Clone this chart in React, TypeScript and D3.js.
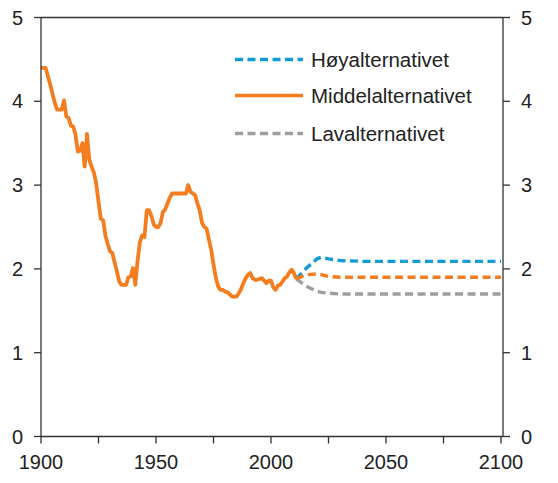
import React from "react";
import * as d3 from "d3";

const histYears = [1900,1901,1902,1903,1904,1905,1906,1907,1908,1909,1910,1911,1912,1913,1914,1915,1916,1917,1918,1919,1920,1921,1922,1923,1924,1925,1926,1927,1928,1929,1930,1931,1932,1933,1934,1935,1936,1937,1938,1939,1940,1941,1942,1943,1944,1945,1946,1947,1948,1949,1950,1951,1952,1953,1954,1955,1956,1957,1958,1959,1960,1961,1962,1963,1964,1965,1966,1967,1968,1969,1970,1971,1972,1973,1974,1975,1976,1977,1978,1979,1980,1981,1982,1983,1984,1985,1986,1987,1988,1989,1990,1991,1992,1993,1994,1995,1996,1997,1998,1999,2000,2001,2002,2003,2004,2005,2006,2007,2008,2009,2010,2011];
const histValues = [4.40,4.40,4.40,4.30,4.20,4.09,3.98,3.90,3.90,3.90,4.01,3.82,3.80,3.71,3.70,3.60,3.40,3.41,3.50,3.22,3.61,3.30,3.22,3.15,3.02,2.80,2.60,2.58,2.40,2.30,2.21,2.19,2.08,1.97,1.85,1.81,1.81,1.81,1.90,1.91,2.01,1.81,2.10,2.32,2.40,2.38,2.70,2.70,2.63,2.53,2.50,2.50,2.55,2.68,2.71,2.78,2.85,2.90,2.90,2.90,2.90,2.90,2.90,2.90,3.00,2.92,2.90,2.88,2.78,2.70,2.55,2.50,2.48,2.35,2.23,2.05,1.90,1.79,1.75,1.75,1.73,1.72,1.70,1.67,1.67,1.67,1.71,1.76,1.83,1.89,1.93,1.95,1.89,1.87,1.87,1.88,1.89,1.86,1.83,1.86,1.86,1.78,1.75,1.80,1.81,1.85,1.89,1.91,1.96,1.99,1.95,1.88];

const projYears = [2011,2015,2020,2022,2025,2030,2040,2060,2080,2100];
const highValues = [1.88,2.00,2.12,2.14,2.12,2.10,2.09,2.09,2.09,2.09];
const midValues = [1.88,1.93,1.94,1.93,1.91,1.90,1.90,1.90,1.90,1.90];
const lowValues = [1.88,1.80,1.73,1.72,1.71,1.70,1.70,1.70,1.70,1.70];

const xTicks = [1900,1925,1950,1975,2000,2025,2050,2075,2100];
const xTickLabels = ["1900","","1950","","2000","","2050","","2100"];
const yTicks = [0,1,2,3,4,5];

const legendLabels = ["Høyalternativet","Middelalternativet","Lavalternativet"];

const ORANGE = "#F47D20";
const BLUE = "#0E9BD7";
const GRAY = "#9E9EA0";
const AXIS = "#333333";
const TEXT = "#222222";
const FONT = "'Liberation Sans', Arial, sans-serif";

export default function App() {
  const x = d3.scaleLinear().domain([1900, 2100]).range([41, 501]);
  const y = d3.scaleLinear().domain([0, 5]).range([436.5, 17.5]);
  const left = 41;
  const right = 503;
  const line = d3.line<[number, number]>().x(d => x(d[0])).y(d => y(d[1]));
  const hist = line(histYears.map((yr, i) => [yr, histValues[i]]));
  const high = line(projYears.map((yr, i) => [yr, highValues[i]]));
  const mid = line(projYears.map((yr, i) => [yr, midValues[i]]));
  const low = line(projYears.map((yr, i) => [yr, lowValues[i]]));
  const dash = "8,4.5";
  const legendY = [59.5, 95.5, 133.5];
  const legendStyles = [
    { stroke: BLUE, dash: dash },
    { stroke: ORANGE, dash: undefined },
    { stroke: GRAY, dash: dash },
  ];
  return (
    <svg width={558} height={483} style={{ position: "absolute", left: 0, top: 0, display: "block" }} fontFamily={FONT}>
      <rect x={0} y={0} width={558} height={483} fill="#fff" />
      <path d={low || ""} fill="none" stroke={GRAY} strokeWidth={3.4} strokeDasharray={dash} />
      <path d={high || ""} fill="none" stroke={BLUE} strokeWidth={3.4} strokeDasharray={dash} />
      <path d={mid || ""} fill="none" stroke={ORANGE} strokeWidth={3.4} strokeDasharray={dash} />
      <path d={hist || ""} fill="none" stroke={ORANGE} strokeWidth={3.8} strokeLinejoin="round" />
      <line x1={left} x2={right} y1={y(5)} y2={y(5)} stroke={AXIS} strokeWidth={1.3} />
      <line x1={left} x2={right} y1={y(0)} y2={y(0)} stroke={AXIS} strokeWidth={1.3} />
      <line x1={left} x2={left} y1={y(5)} y2={y(0)} stroke={AXIS} strokeWidth={1.3} />
      <line x1={right} x2={right} y1={y(5)} y2={y(0)} stroke={AXIS} strokeWidth={1.3} />
      {yTicks.map(t => (
        <g key={"y" + t}>
          <line x1={left - 7} x2={left} y1={y(t)} y2={y(t)} stroke={AXIS} strokeWidth={1.3} />
          <line x1={right} x2={right + 7} y1={y(t)} y2={y(t)} stroke={AXIS} strokeWidth={1.3} />
          <text x={23} y={y(t)} dy="0.35em" textAnchor="end" fontSize={20} fill={TEXT}>{t}</text>
          <text x={521} y={y(t)} dy="0.35em" textAnchor="start" fontSize={20} fill={TEXT}>{t}</text>
        </g>
      ))}
      {xTicks.map((t, i) => (
        <g key={"x" + t}>
          <line x1={x(t)} x2={x(t)} y1={y(0)} y2={y(0) + 7} stroke={AXIS} strokeWidth={1.3} />
          {xTickLabels[i] && (
            <text x={x(t)} y={469} textAnchor="middle" fontSize={20} fill={TEXT}>{xTickLabels[i]}</text>
          )}
        </g>
      ))}
      {legendLabels.map((lab, i) => (
        <g key={lab}>
          <line x1={235} x2={303} y1={legendY[i]} y2={legendY[i]} stroke={legendStyles[i].stroke} strokeWidth={3.4} strokeDasharray={legendStyles[i].dash} />
          <text x={311} y={legendY[i]} dy="0.35em" fontSize={20.5} fill={TEXT}>{lab}</text>
        </g>
      ))}
    </svg>
  );
}
